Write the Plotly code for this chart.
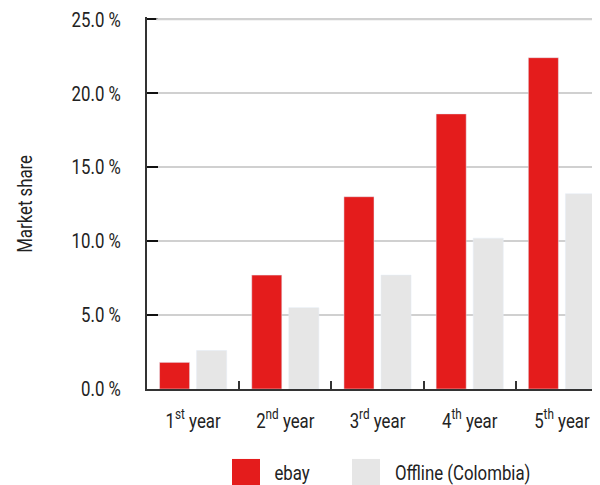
import plotly.graph_objects as go

categories = ["1<sup>st</sup> year", "2<sup>nd</sup> year", "3<sup>rd</sup> year", "4<sup>th</sup> year", "5<sup>th</sup> year"]
ebay = [1.8, 7.7, 13.0, 18.6, 22.4]
offline = [2.6, 5.5, 7.7, 10.2, 13.2]
series_names = ["ebay", "Offline (Colombia)"]
y_ticks = [0, 5, 10, 15, 20, 25]
y_ticktext = ["%.1f %%" % v for v in y_ticks]
y_title = "Market share"

RED = "#e41c1c"
GRAY = "#e6e6e6"
GRID = "#d0d0d0"
FONT = "Roboto, Liberation Sans, sans-serif"
FS = 21
TXT = "#222"

Y_MAX = 25.15          # tiny headroom so the top tick is kept
# plot area in screen pixels (page has 8px body margin)
PL, PR, PB = 147, 608, 389
PT = 19 - (Y_MAX - 25) * (389 - 19) / 25
PW, PH = PR - PL, PB - PT


def px(x):
    return (x - PL) / PW


def py(y):
    return (PB - y) / PH


fig = go.Figure()
fig.add_trace(go.Bar(x=categories, y=ebay, name=series_names[0], marker_color=RED, showlegend=False))
fig.add_trace(go.Bar(x=categories, y=offline, name=series_names[1], marker_color=GRAY, showlegend=False))

# top grid line (plotly drops the grid line at the very end of the range)
fig.add_shape(type="line", xref="paper", yref="y", x0=0.02, x1=1,
              y0=y_ticks[-1], y1=y_ticks[-1], line=dict(color=GRID, width=2), layer="above")

# legend drawn manually (large square swatches)
sw_x = [232, 352]
lab_cx = [291.5, 462.5]
for name, col, x0, cx in zip(series_names, [RED, GRAY], sw_x, lab_cx):
    fig.add_shape(type="rect", xref="paper", yref="paper",
                  x0=px(x0), x1=px(x0 + 28), y0=py(487), y1=py(459),
                  fillcolor=col, line_width=0)
    fig.add_annotation(xref="paper", yref="paper", x=px(cx), y=py(473),
                       text=name, showarrow=False, xanchor="center", yanchor="middle",
                       font=dict(size=FS, color=TXT, family=FONT))

# y-axis title
fig.add_annotation(xref="paper", yref="paper", x=px(25), y=py(204), text=y_title,
                   textangle=-90, showarrow=False, xanchor="center", yanchor="middle",
                   font=dict(size=FS, color=TXT, family=FONT))

fig.update_layout(
    width=600, height=485,
    margin=dict(l=PL - 8, r=0, t=PT - 8, b=485 + 8 - PB),
    paper_bgcolor="white", plot_bgcolor="white",
    barmode="group", bargap=0.196, bargroupgap=0.189,
    font=dict(family=FONT, size=FS, color=TXT),
    xaxis=dict(range=[-0.5, 4.5], showline=True, linecolor="#333", linewidth=2,
               ticks="inside", tickson="boundaries", ticklen=8, tickcolor="#333", tickwidth=2,
               showgrid=False, ticklabelstandoff=12, automargin=False, ticklabeloverflow="allow",
               tickfont=dict(size=FS, color=TXT, family=FONT)),
    yaxis=dict(range=[0, Y_MAX], tickvals=y_ticks, ticktext=y_ticktext,
               showline=True, linecolor="#333", linewidth=2,
               ticks="inside", ticklen=11, tickcolor="#111", tickwidth=2,
               showgrid=True, gridcolor=GRID, gridwidth=2, zeroline=False,
               ticklabelstandoff=20, automargin=False, ticklabeloverflow="allow",
               tickfont=dict(size=FS, color=TXT, family=FONT)),
)

# narrow the text horizontally (condensed look) about each text's anchor x
js = """
function cz(){
  document.querySelectorAll('.main-svg text').forEach(function(t){
    var tr = t.getAttribute('transform') || '';
    if (tr.indexOf('scale(0.8,1)') >= 0) return;
    var x = parseFloat(t.getAttribute('x')) || 0;
    t.setAttribute('transform', tr + ' translate(' + x + ',0) scale(0.8,1) translate(' + (-x) + ',0)');
  });
}
cz();
var gd = document.getElementById('{plot_id}');
if (gd && gd.on) { gd.on('plotly_afterplot', cz); }
setTimeout(cz, 50);
"""

fig.write_html("out.html", post_script=js)
